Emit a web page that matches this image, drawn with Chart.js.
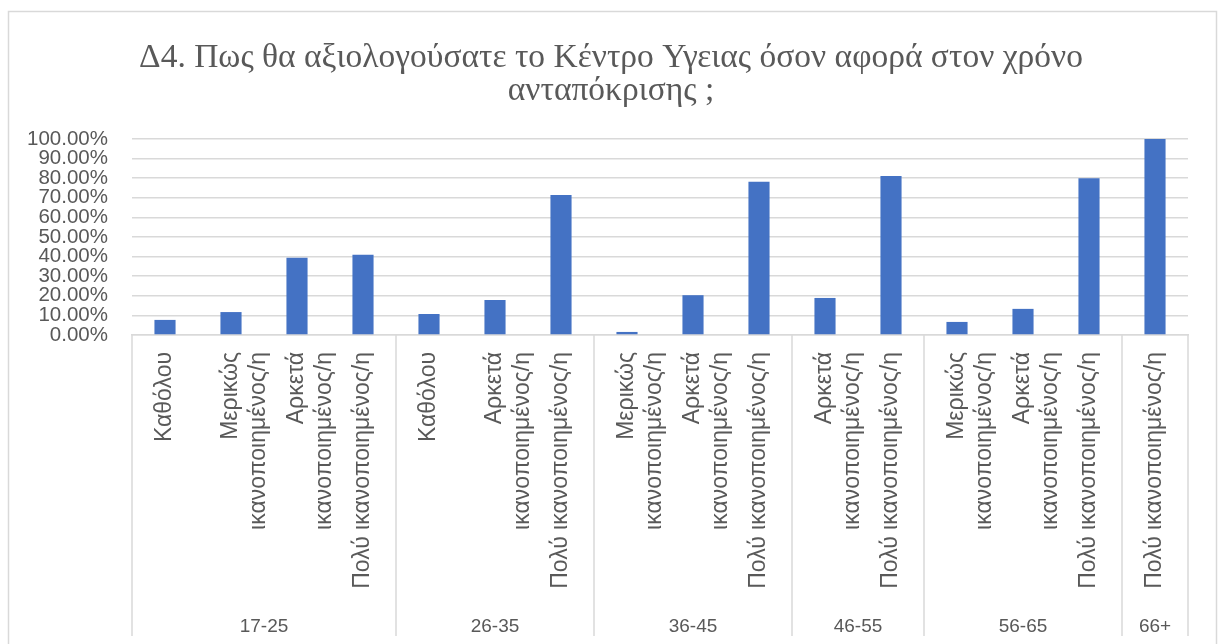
<!DOCTYPE html>
<html>
<head>
<meta charset="utf-8">
<script src="https://cdn.jsdelivr.net/npm/chart.js@4"></script>
<style>
  html, body { margin: 0; padding: 0; background: #fff; }
  #wrap { width: 1218px; height: 644px; }
</style>
</head>
<body>
<div id="wrap"><canvas id="chart" width="1218" height="644"></canvas></div>
<script>
const titleLines = [
  "Δ4. Πως θα αξιολογούσατε το Κέντρο Υγειας όσον αφορά στον χρόνο",
  "ανταπόκρισης ;"
];

const groups = ["17-25", "26-35", "36-45", "46-55", "56-65", "66+"];
const groupSizes = [4, 3, 3, 2, 3, 1];

const categories = [
  "Καθόλου", ["Μερικώς", "ικανοποιημένος/η"], ["Αρκετά", "ικανοποιημένος/η"], "Πολύ ικανοποιημένος/η",
  "Καθόλου", ["Αρκετά", "ικανοποιημένος/η"], "Πολύ ικανοποιημένος/η",
  ["Μερικώς", "ικανοποιημένος/η"], ["Αρκετά", "ικανοποιημένος/η"], "Πολύ ικανοποιημένος/η",
  ["Αρκετά", "ικανοποιημένος/η"], "Πολύ ικανοποιημένος/η",
  ["Μερικώς", "ικανοποιημένος/η"], ["Αρκετά", "ικανοποιημένος/η"], "Πολύ ικανοποιημένος/η",
  "Πολύ ικανοποιημένος/η"
];

const values = [
  7.7, 11.7, 39.4, 41.0,
  10.71, 17.86, 71.43,
  1.56, 20.31, 78.13,
  18.9, 81.1,
  6.67, 13.33, 80.0,
  100.0
];

const yTicks = [0, 10, 20, 30, 40, 50, 60, 70, 80, 90, 100];

const gray = "#595959";
const lineGray = "#d9d9d9";
const labelFont = "'Liberation Sans', Arial, sans-serif";

// frame round the whole chart, plus the two-line title
const framePlugin = {
  id: "frame",
  beforeDraw(chart) {
    const ctx = chart.ctx;
    ctx.save();
    ctx.fillStyle = "#fff";
    ctx.fillRect(0, 0, chart.width, chart.height);
    ctx.strokeStyle = lineGray;
    ctx.lineWidth = 1.5;
    ctx.strokeRect(8.5, 11.5, 1208, 640);

    ctx.fillStyle = gray;
    ctx.font = "33.5px 'Liberation Serif', serif";
    ctx.textAlign = "center";
    ctx.textBaseline = "alphabetic";
    titleLines.forEach((t, i) => ctx.fillText(t, 611, 67 + i * 33));
    ctx.restore();
  }
};

// second level of the category axis: separators and age groups
const groupPlugin = {
  id: "groupAxis",
  afterDraw(chart) {
    const x = chart.scales.x;
    const ctx = chart.ctx;
    const step = x.getPixelForValue(1) - x.getPixelForValue(0);
    const top = chart.chartArea.bottom;
    ctx.save();
    ctx.strokeStyle = lineGray;
    ctx.lineWidth = 1.5;
    let idx = 0;
    const edges = [x.getPixelForValue(0) - step / 2];
    groupSizes.forEach(n => {
      idx += n;
      edges.push(x.getPixelForValue(idx - 1) + step / 2);
    });
    edges.forEach(px => {
      ctx.beginPath();
      ctx.moveTo(px, top);
      ctx.lineTo(px, 636);
      ctx.stroke();
    });
    ctx.fillStyle = gray;
    ctx.font = "19px " + labelFont;
    ctx.textAlign = "center";
    ctx.textBaseline = "middle";
    groups.forEach((g, i) => {
      ctx.fillText(g, (edges[i] + edges[i + 1]) / 2, 627);
    });
    ctx.restore();
  }
};

new Chart(document.getElementById("chart"), {
  type: "bar",
  data: {
    labels: categories,
    datasets: [{
      data: values,
      backgroundColor: "#4472c4",
      barPercentage: 0.32,
      categoryPercentage: 1.0
    }]
  },
  options: {
    responsive: false,
    animation: false,
    layout: { padding: { left: 0, right: 30, top: 139, bottom: 0 } },
    plugins: {
      legend: { display: false },
      tooltip: { enabled: false },
      title: { display: false }
    },
    scales: {
      x: {
        grid: { display: false, drawTicks: false },
        border: { display: true, color: lineGray, width: 1.5 },
        ticks: {
          color: gray,
          font: { family: labelFont, size: 23, lineHeight: 1.2 },
          maxRotation: 90,
          minRotation: 90,
          autoSkip: false,
          padding: 17
        },
        afterFit(s) { s.height = 309; }
      },
      y: {
        min: 0,
        max: 100,
        afterBuildTicks(s) { s.ticks = yTicks.map(v => ({ value: v })); },
        grid: { color: lineGray, lineWidth: 1.5, drawTicks: false },
        border: { display: false },
        ticks: {
          color: gray,
          font: { family: labelFont, size: 20.5, lineHeight: 1.0 },
          autoSkip: false,
          padding: 24,
          callback: v => v.toFixed(2) + "%"
        },
        afterFit(s) { s.width = 132; }
      }
    }
  },
  plugins: [framePlugin, groupPlugin]
});
</script>
</body>
</html>
